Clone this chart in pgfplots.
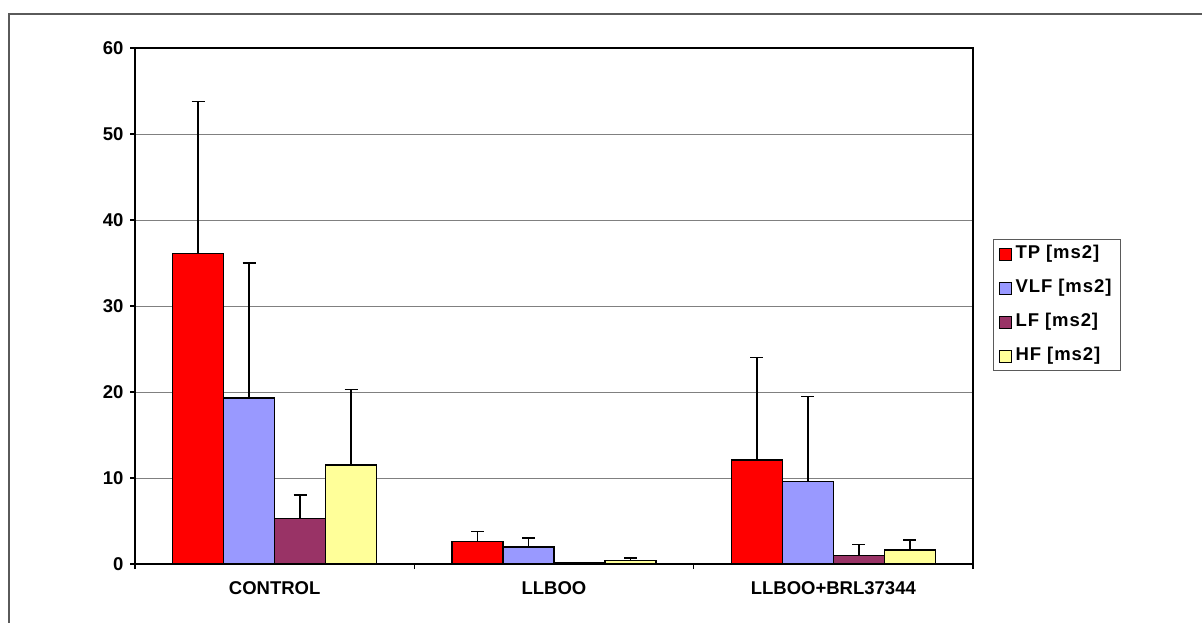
\documentclass[border=0pt]{standalone}
\usepackage{fontspec}
\setmainfont{Liberation Sans}
\newfontfamily\legendfont{Liberation Sans}[LetterSpace=5]
\usepackage{pgfplots}
\pgfplotsset{compat=1.18}

\definecolor{tpred}{RGB}{255,0,0}
\definecolor{vlfblue}{RGB}{153,153,255}
\definecolor{lfplum}{RGB}{153,51,102}
\definecolor{hfyellow}{RGB}{255,255,153}
\definecolor{framegray}{RGB}{90,90,90}
\definecolor{gridgray}{RGB}{128,128,128}

\begin{document}
\begin{tikzpicture}[x=1pt,y=1pt]
\useasboundingbox (0,0) rectangle (1202,622);
% outer chart frame (cut by the picture edge on the right and bottom)
\draw[framegray, line width=1.6pt] (9,-2) -- (9,608) -- (1204,608);

\begin{axis}[
    at={(135pt,58pt)}, anchor=south west,
    scale only axis,
    width=838pt, height=516pt,
    xmin=-0.5, xmax=2.5,
    ymin=0, ymax=60,
    ytick={0,10,...,60},
    xtick={0,1,2},
    xticklabels={CONTROL,LLBOO,LLBOO+BRL37344},
    minor xtick={-0.5,0.5,1.5,2.5},
    xtick pos=bottom, ytick pos=left,
    major x tick style={draw=none},
    minor x tick style={black, line width=1.2pt},
    minor tick length=5pt,
    major tick length=5pt,
    tick align=outside,
    y tick style={black, line width=1.2pt},
    ymajorgrids,
    major grid style={gridgray, line width=1pt},
    axis line style={black, line width=1.5pt},
    ticklabel style={font=\fontsize{18.5}{22}\selectfont\bfseries},
    /pgf/number format/assume math mode=true,
    yticklabel style={xshift=-3pt},
    xticklabel style={yshift=-9pt},
    ybar=0pt,
    bar width=51pt,
    error bars/y dir=plus,
    error bars/y explicit,
    error bars/error bar style={black, line width=1.6pt},
    error bars/error mark options={rotate=90, mark size=6.5pt, line width=1.6pt, black},
    legend style={
        at={(1.0239,0.6298)}, anchor=north west,
        draw=framegray, line width=1pt,
        font=\legendfont\fontsize{18.5}{22}\selectfont\bfseries,
        inner xsep=5pt, inner ysep=3pt,
        row sep=11pt,
        nodes={text height=13pt, text depth=4pt, inner ysep=3pt, inner xsep=4pt},
        cells={anchor=west},
    },
    legend image code/.code={
        \draw[#1, line width=1pt] (0pt,-6pt) rectangle (12pt,6pt);
    },
]
\addplot[fill=tpred, draw=black, line width=1.5pt] coordinates {
    (0,36.1) +- (0,17.7)
    (1,2.6)  +- (0,1.2)
    (2,12.1) +- (0,11.9)
};
\addlegendentry{TP [ms2]}
\addplot[fill=vlfblue, draw=black, line width=1.5pt] coordinates {
    (0,19.3) +- (0,15.7)
    (1,2.0)  +- (0,1.05)
    (2,9.6)  +- (0,9.9)
};
\addlegendentry{VLF [ms2]}
\addplot[fill=lfplum, draw=black, line width=1.5pt] coordinates {
    (0,5.3)  +- (0,2.7)
    (1,0.15) +- (0,0.0)
    (2,1.0)  +- (0,1.25)
};
\addlegendentry{LF [ms2]}
\addplot[fill=hfyellow, draw=black, line width=1.5pt] coordinates {
    (0,11.5) +- (0,8.8)
    (1,0.38) +- (0,0.35)
    (2,1.6)  +- (0,1.2)
};
\addlegendentry{HF [ms2]}
\end{axis}
\end{tikzpicture}
\end{document}
